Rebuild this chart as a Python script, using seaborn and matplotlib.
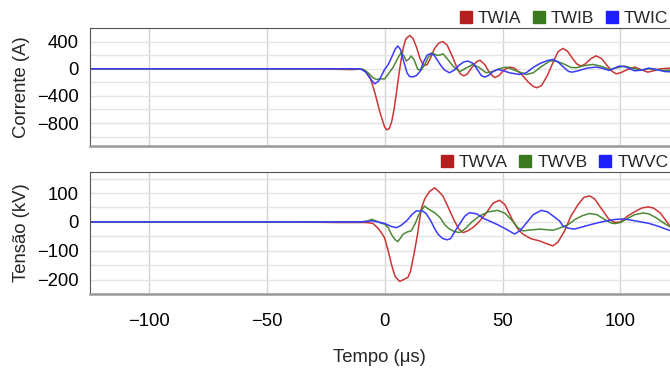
import numpy as np
import pandas as pd
import matplotlib
matplotlib.use("Agg")
import matplotlib.pyplot as plt
from matplotlib.ticker import MultipleLocator
from matplotlib.lines import Line2D
import seaborn as sns

# ---------------- data ----------------
# Currents (A)
twia_t = [-125, -30, -20, -14, -10, -8, -6, -4, -2, 0, 1, 2, 3, 4, 5, 6, 7, 8, 9, 10.6, 12, 13.5, 15,
          16.5, 18, 19.5, 21, 23, 24.7, 26.5, 28.5, 30.5, 32, 33.5, 35, 37, 39, 40.5, 42.5, 44.5, 46.6,
          48.5, 50.5, 53, 55, 58, 61, 63, 64.5, 66.5, 69, 71.5, 73.5, 75.6, 77.5, 79.5, 81.5, 83.3, 85,
          87.5, 89.7, 92, 94.5, 96.5, 98.2, 100, 103, 106, 108.5, 111.6, 114, 117, 121]
twia_v = [0, 0, -8, -12, -5, -30, -140, -370, -640, -860, -900, -880, -780, -600, -360, -100, 130, 320,
          440, 490, 450, 320, 150, 45, 60, 160, 290, 380, 400, 350, 200, 30, -70, -105, -80, 20, 105, 125,
          60, -60, -130, -100, -20, 25, 10, -80, -200, -260, -280, -250, -100, 100, 250, 300, 260, 160, 70,
          40, 70, 150, 190, 150, 40, -40, -74, -60, -10, 25, -10, -50, -30, 0, 10]

twib_t = [-125, -12, -9, -7, -5, -3.5, -2, 0, 1.5, 3.5, 5.5, 7, 8.2, 9.2, 10.2, 11.3, 12.5, 14.1, 15.5,
          17, 18.5, 20.2, 22, 23.5, 24.7, 26.5, 29, 31.8, 34.5, 37.4, 40, 43, 46, 48.5, 51.6, 55, 60, 63,
          66, 70, 72.8, 76, 79, 81.2, 84.5, 88.3, 91.5, 95.3, 98, 101.6, 105, 108.6, 112, 115.7, 118, 121]
twib_v = [0, 0, -10, -60, -130, -158, -150, -150, -80, 15, 150, 237, 190, 114, 140, 188, 130, -10, -20,
          60, 170, 237, 200, 200, 222, 150, 40, -44, 10, 64, 20, -59, -40, 0, 25, -20, -84, -60, 20, 114,
          114, 70, 20, 15, 45, 64, 40, -10, 10, 40, 10, -20, 0, -10, -25, -20]

twic_t = [-125, -12, -10, -8, -6, -4.2, -2.5, -1, 0, 1.5, 3, 4.5, 5.6, 6.8, 8, 9.5, 10.6, 12, 13.5, 15,
          16.5, 18, 19.5, 21, 22.5, 24, 25.5, 27.5, 29.5, 31.5, 33.5, 35.3, 37.5, 39.5, 41, 42.4, 44, 46,
          48, 50.5, 53, 57.2, 60, 63, 66, 69, 71.3, 73.5, 76, 78, 79.5, 82, 86, 89.7, 92, 95.3, 97.5,
          99.6, 102, 106, 109, 112, 115, 118.6, 121]
twic_v = [0, 0, -5, -50, -150, -222, -180, -80, -10, 60, 170, 290, 336, 280, 120, -60, -115, -120, -100,
          -40, 100, 200, 225, 200, 120, 40, -20, -59, -20, 50, 100, 114, 80, -20, -100, -123, -100, -40,
          -10, -30, -60, -84, -60, 20, 80, 120, 138, 100, 20, -40, -50, -30, 10, 25, 10, -25, 10, 40, 30,
          -30, -20, 10, -10, -40, -45]

# Voltages (kV)
twva_t = [-125, -40, -20, -8, -5, -3, -1.4, 0, 1.5, 3, 4.5, 6.4, 8, 9.9, 11, 12.5, 14, 15.5, 17, 19,
          21.2, 23, 24.7, 27, 29.5, 31.5, 33.2, 35, 37.4, 40, 43, 46, 48.7, 51, 54, 56.5, 58.6, 62, 65.7,
          68.5, 71.3, 73.5, 76.3, 79, 82, 84.5, 86.9, 89, 92, 95, 97.5, 100, 103, 106, 109, 111.6, 114,
          117, 121]
twva_v = [0, 0, -2, -2, -5, -20, -37, -55, -100, -150, -190, -206, -200, -192, -170, -110, -40, 44, 80,
          105, 118, 105, 90, 50, 5, -25, -37, -32, -20, 0, 30, 65, 75, 60, 10, -25, -42, -58, -66, -75,
          -83, -70, -31, 20, 60, 85, 90, 80, 45, 10, -2, 0, 20, 35, 48, 52, 48, 30, -15]

twvb_t = [-125, -10, -7, -5.6, -4, -2, 0, 1.5, 3, 4.5, 5.6, 6.8, 7.8, 9.5, 11.3, 13, 14.5, 16.9, 18.5,
          21.2, 23.5, 25.5, 27.5, 29.5, 31.8, 34, 37, 40.3, 44, 48, 51, 54, 56.5, 58.6, 62, 65.7, 69,
          71.3, 74, 77.7, 81, 84, 86.9, 90, 93, 95.5, 97.5, 100, 103, 106, 109.5, 112, 115, 118, 121]
twvb_v = [0, 0, 3, 9, 5, -3, -8, -20, -45, -62, -68, -55, -43, -35, -31, -5, 25, 55, 45, 32, 15, -10,
          -25, -33, -37, -25, 0, 21, 35, 40, 30, 5, -20, -31, -28, -25, -27, -29, -22, -10, 10, 22, 29, 25,
          10, -2, -6, -2, 12, 25, 31, 28, 15, -2, -17]

twvc_t = [-125, -10, -7, -5.6, -3, 0, 2.5, 5, 7, 9.5, 11.5, 13.4, 16, 17.5, 19.5, 21, 22.6, 24.5, 26.5,
          28, 30, 32, 34, 36, 39, 42, 44.5, 48, 51.5, 55.1, 57.5, 60, 63, 66.4, 69, 71.5, 74.2, 75.6, 78,
          80.5, 84, 88, 92, 95, 98.2, 101, 104, 108, 112, 116, 121]
twvc_v = [0, 0, 2, 4, 0, -5, -15, -20, -12, 5, 25, 38, 38, 30, 5, -20, -42, -57, -62, -58, -30, -5, 20,
          32, 28, 12, 3, -10, -25, -42, -30, -5, 25, 40, 35, 20, 3, -14, -22, -25, -17, -8, 0, 5, 9, 10, 7,
          1, -5, -15, -30]

current_names = ["TWIA", "TWIB", "TWIC"]
voltage_names = ["TWVA", "TWVB", "TWVC"]
x_ticks = [-100, -50, 0, 50, 100]
current_ticks = [400, 0, -400, -800]
voltage_ticks = [100, 0, -100, -200]

line_colors = ["#CC3535", "#4A8A35", "#3A3AFF"]
legend_colors = ["#B41E1E", "#3C7A22", "#1E1EFF"]


def long_df(names, series):
    frames = []
    for n, (t, v) in zip(names, series):
        frames.append(pd.DataFrame({"t": t, "v": v, "s": n}))
    return pd.concat(frames, ignore_index=True)


def fmt(v):
    return ("\u2212" + str(-v)) if v < 0 else str(v)


df_i = long_df(current_names, [(twia_t, twia_v), (twib_t, twib_v), (twic_t, twic_v)])
df_v = long_df(voltage_names, [(twva_t, twva_v), (twvb_t, twvb_v), (twvc_t, twvc_v)])

# ---------------- figure ----------------
sns.set_theme(style="white")
plt.rcParams["font.family"] = ["Liberation Sans", "DejaVu Sans"]

FS = 13.3

fig = plt.figure(figsize=(6.7, 3.69), dpi=100)
ax1 = fig.add_axes([0.134, 0.604, 0.866, 0.320])
ax2 = fig.add_axes([0.134, 0.203, 0.866, 0.331])

pal_i = dict(zip(current_names, line_colors))
pal_v = dict(zip(voltage_names, line_colors))

sns.lineplot(data=df_i, x="t", y="v", hue="s", palette=pal_i, ax=ax1, linewidth=1.1,
             legend=False, sort=False, estimator=None)
sns.lineplot(data=df_v, x="t", y="v", hue="s", palette=pal_v, ax=ax2, linewidth=1.1,
             legend=False, sort=False, estimator=None)

for ax in (ax1, ax2):
    ax.set_xlim(-125, 121)
    ax.xaxis.set_major_locator(MultipleLocator(50))
    ax.grid(True, which="major", axis="x", color="#d4d4d4", linewidth=1.0)
    ax.grid(True, which="both", axis="y", color="#e4e4e4", linewidth=1.0)
    ax.tick_params(axis="both", which="both", length=0, labelsize=FS, colors="black", pad=8)
    ax.spines["right"].set_visible(False)
    ax.spines["top"].set_color("#555555")
    ax.spines["top"].set_linewidth(0.8)
    ax.spines["left"].set_color("#555555")
    ax.spines["left"].set_linewidth(0.8)
    ax.spines["bottom"].set_color("#999999")
    ax.spines["bottom"].set_linewidth(1.8)
    ax.set_axisbelow(True)

ax1.set_ylim(-1140, 600)
ax1.yaxis.set_major_locator(MultipleLocator(400))
ax1.yaxis.set_minor_locator(MultipleLocator(200))
ax1.set_xticks(x_ticks)
ax1.set_xticklabels([])
ax1.set_xlabel("")
ax1.set_yticks(current_ticks)
ax1.set_yticklabels([fmt(v) for v in current_ticks])
ax1.set_ylabel("Corrente (A)", fontsize=FS)

ax2.set_ylim(-250, 173)
ax2.yaxis.set_major_locator(MultipleLocator(100))
ax2.yaxis.set_minor_locator(MultipleLocator(50))
ax2.set_yticks(voltage_ticks)
ax2.set_yticklabels([fmt(v) for v in voltage_ticks])
ax2.set_xticks(x_ticks)
ax2.set_xticklabels([fmt(v) for v in x_ticks])
ax2.set_ylabel("Tens\u00e3o (kV)", fontsize=FS)
ax2.set_xlabel("Tempo (\u03bcs)", fontsize=FS, labelpad=14)
ax2.tick_params(axis="x", pad=13.5)

for ax in (ax1, ax2):
    ax.yaxis.set_label_coords(-0.103, 0.5)


def square_handles(colors):
    return [Line2D([0], [0], marker="s", linestyle="none", markersize=9,
                   markerfacecolor=c, markeredgecolor=c) for c in colors]


for ax, names in ((ax1, current_names), (ax2, voltage_names)):
    ax.legend(square_handles(legend_colors), names, loc="lower right",
              bbox_to_anchor=(1.0, 1.0), ncol=3, frameon=False, fontsize=12.5,
              handlelength=0.8, handletextpad=0.3, columnspacing=0.6,
              borderaxespad=0.1, borderpad=0.0)

fig.savefig("out.png", dpi=100)
